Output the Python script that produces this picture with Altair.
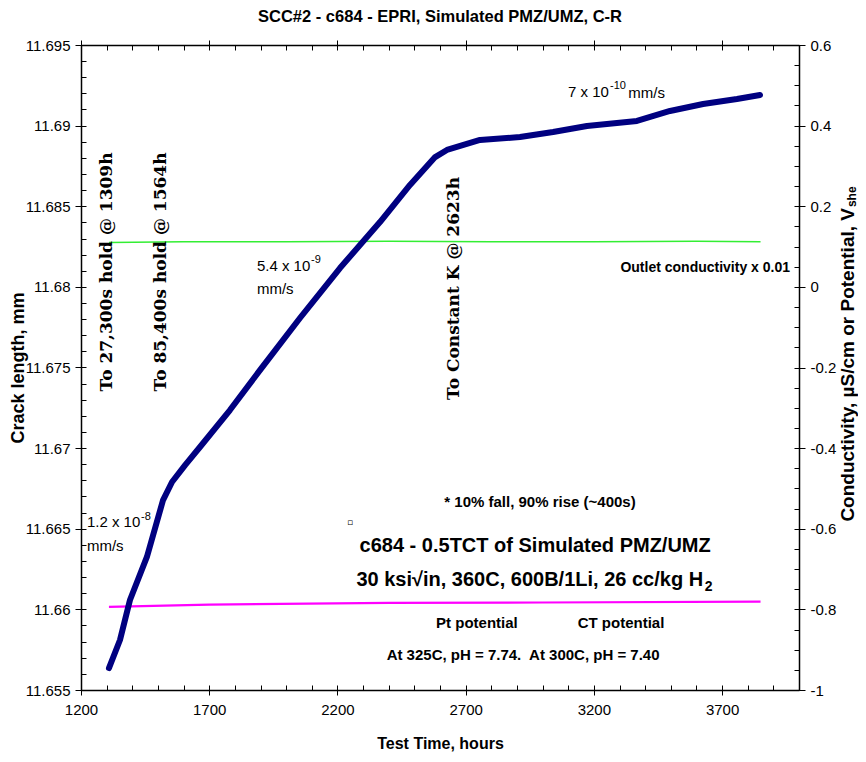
import altair as alt
import pandas as pd

# ---------------- data ----------------
crack_hours = [1309, 1352, 1391, 1457, 1520, 1555, 1606, 1664, 1781, 1898, 2054, 2210, 2366,
               2483, 2581, 2627, 2756, 2912, 3041, 3173, 3368, 3497, 3626, 3758, 3848]
crack_mm = [11.65636, 11.65810, 11.66058, 11.66325, 11.66678, 11.66790, 11.66895, 11.67007,
            11.67236, 11.67484, 11.67807, 11.68117, 11.68402, 11.68632, 11.68805, 11.68849,
            11.68911, 11.68929, 11.68960, 11.68998, 11.69029, 11.69091, 11.69134, 11.69165, 11.69190]

cond_hours = [1309, 1600, 2000, 2400, 2800, 3200, 3600, 3850]
cond_vals = [0.110, 0.112, 0.112, 0.113, 0.112, 0.112, 0.113, 0.112]

pot_hours = [1309, 1700, 2400, 3000, 3850]
pot_vals = [-0.794, -0.788, -0.784, -0.783, -0.781]

x_major = [1200, 1700, 2200, 2700, 3200, 3700]
x_minor = list(range(1200, 4001, 100))
left_major = [round(11.655 + 0.005 * i, 3) for i in range(9)]
left_minor = [round(11.655 + 0.001 * i, 3) for i in range(41)]
right_major = [round(-1 + 0.2 * i, 1) + 0.0 for i in range(9)]
right_minor = [round(-1 + 0.05 * i, 2) + 0.0 for i in range(33)]

X_DOMAIN = [1200, 4000]
L_DOMAIN = [11.655, 11.695]
R_DOMAIN = [-1, 0.6]

SANS = "Liberation Sans, Arial, sans-serif"
SERIF = "DejaVu Serif"

xs = alt.Scale(domain=X_DOMAIN, nice=False, zero=False)
ls = alt.Scale(domain=L_DOMAIN, nice=False, zero=False)
rs = alt.Scale(domain=R_DOMAIN, nice=False, zero=False)

crack_df = pd.DataFrame({"h": crack_hours, "v": crack_mm})
cond_df = pd.DataFrame({"h": cond_hours, "v": cond_vals})
pot_df = pd.DataFrame({"h": pot_hours, "v": pot_vals})

common_axis = dict(grid=False, domainColor="black", tickColor="black", labelColor="black",
                   titleColor="black", labelFont=SANS, titleFont=SANS, labelFontSize=15,
                   titleFontWeight="bold", labelFlush=False, labelOverlap=False)

# ----- lines -----
cond = alt.Chart(cond_df).mark_line(color="#33ee33", strokeWidth=1.6).encode(
    x=alt.X("h:Q", scale=xs, axis=alt.Axis(orient="top", values=x_major, labels=False, title=None,
                                           tickSize=5, domainWidth=1.5, **common_axis)),
    y=alt.Y("v:Q", scale=rs, axis=alt.Axis(orient="right", values=right_major, tickSize=6, labelPadding=5,
                                           domainWidth=1.5,
                                           labelExpr="replace(format(datum.value, '.1~f'), '\u2212', '-')",
                                           title=None, **common_axis)),
)

pot = alt.Chart(pot_df).mark_line(color="#ff00ff", strokeWidth=2.2).encode(
    x=alt.X("h:Q", scale=xs, axis=alt.Axis(orient="top", values=x_minor, labels=False, title=None,
                                           domain=False, tickSize=5, offset=-5, grid=False, tickColor="black")),
    y=alt.Y("v:Q", scale=rs, axis=alt.Axis(orient="right", values=right_minor, labels=False, title=None,
                                           domain=False, tickSize=5, offset=-5, grid=False, tickColor="black")),
)

crack = alt.Chart(crack_df).mark_line(color="#000080", strokeWidth=6, strokeJoin="round", strokeCap="round").encode(
    x=alt.X("h:Q", scale=xs, axis=alt.Axis(orient="bottom", values=x_major, tickSize=5, labelPadding=7,
                                           domainWidth=1.5, format="d", title="Test Time, hours",
                                           titleFontSize=16, titlePadding=18, **common_axis)),
    y=alt.Y("v:Q", scale=ls, axis=alt.Axis(orient="left", values=left_major, tickSize=6, labelPadding=5,
                                           domainWidth=1.5, labelExpr="format(datum.value, '.5~r')",
                                           title="Crack length, mm", titleFontSize=18, titlePadding=-2,
                                           **common_axis)),
)

# ----- annotations -----
def texts(df, axes=False, **kw):
    if axes:
        xa = alt.Axis(orient="bottom", values=x_minor, labels=False, title=None, domain=False,
                      tickSize=5, offset=-5, grid=False, tickColor="black")
        ya = alt.Axis(orient="left", values=left_minor, labels=False, title=None, domain=False,
                      tickSize=5, offset=-5, grid=False, tickColor="black")
    else:
        xa = None
        ya = None
    return alt.Chart(df).mark_text(color="black", **kw).encode(
        x=alt.X("h:Q", scale=xs, axis=xa),
        y=alt.Y("v:Q", scale=ls, axis=ya),
        text="t:N",
    )

serif_df = pd.DataFrame({
    "t": ["To 27,300s hold @ 1309h", "To 85,400s hold @ 1564h", "To Constant K @ 2623h"],
    "h": [1301, 1512, 2655],
    "v": [11.68092, 11.68092, 11.6799],
})
rate_df = pd.DataFrame({
    "t": ["5.4 x 10", "mm/s", "1.2 x 10", "mm/s", "7 x 10", "mm/s"],
    "h": [1886, 1886, 1223, 1223, 3099, 3334],
    "v": [11.68130, 11.67987, 11.66542, 11.66393, 11.69209, 11.69202],
})
sup_df = pd.DataFrame({
    "t": ["-9", "-8", "-10"],
    "h": [2097, 1434, 3263],
    "v": [11.68165, 11.66575, 11.69243],
})
bold_df = pd.DataFrame({
    "t": ["* 10% fall, 90% rise (~400s)", "Pt potential", "CT potential",
          "At 325C, pH = 7.74.\u00a0 At 300C, pH = 7.40"],
    "h": [2990, 2744, 3306, 2924],
    "v": [11.66666, 11.65916, 11.65916, 11.65717],
})
outlet_df = pd.DataFrame({"t": ["Outlet conductivity x 0.01"], "h": [3965], "v": [11.68117]})
big_df = pd.DataFrame({"t": ["c684 - 0.5TCT of Simulated PMZ/UMZ"], "h": [2971], "v": [11.66393]})
big2_df = pd.DataFrame({"t": ["30 ksi\u221ain, 360C, 600B/1Li, 26 cc/kg H"], "h": [3626], "v": [11.66182]})
sub2_df = pd.DataFrame({"t": ["2"], "h": [3632], "v": [11.66140]})
square_df = pd.DataFrame({"t": ["\u25ab"], "h": [2249], "v": [11.66542]})
rtitle_df = pd.DataFrame({"t": ["Conductivity, \u00b5S/cm or Potential, V"], "h": [4190], "v": [11.68489]})
rsub_df = pd.DataFrame({"t": ["she"], "h": [4205], "v": [11.68495]})

layers = [
    cond, pot, crack,
    texts(serif_df, axes=True, font=SERIF, fontWeight="bold", fontSize=17, angle=270,
          align="center", baseline="middle"),
    texts(rate_df, font=SANS, fontSize=15, align="left", baseline="middle"),
    texts(sup_df, font=SANS, fontSize=11, align="left", baseline="middle"),
    texts(bold_df, font=SANS, fontSize=15, fontWeight="bold", align="center", baseline="middle"),
    texts(outlet_df, font=SANS, fontSize=14, fontWeight="bold", align="right", baseline="middle"),
    texts(big_df, font=SANS, fontSize=20, fontWeight="bold", align="center", baseline="middle"),
    texts(big2_df, font=SANS, fontSize=20, fontWeight="bold", align="right", baseline="middle"),
    texts(sub2_df, font=SANS, fontSize=14, fontWeight="bold", align="left", baseline="middle"),
    texts(square_df, font="DejaVu Sans", fontSize=9, align="center", baseline="middle"),
    texts(rtitle_df, font=SANS, fontSize=19, fontWeight="bold", angle=270, align="right", baseline="middle"),
    texts(rsub_df, font=SANS, fontSize=12, fontWeight="bold", angle=270, align="left", baseline="middle"),
]

chart = alt.layer(*layers).resolve_scale(y="independent").resolve_axis(x="independent", y="independent").properties(
    width=718, height=645,
    padding={"left": 73, "top": 37, "right": 59, "bottom": 64},
    autosize=alt.AutoSizeParams(type="none"),
    title=alt.TitleParams("SCC#2 - c684 - EPRI, Simulated PMZ/UMZ, C-R", font=SANS, fontSize=16.5,
                          fontWeight="bold", color="black", anchor="middle", frame="group", offset=13),
).configure_view(stroke=None).configure(background="white")

chart.save("out.html", embed_options={"renderer": "svg", "actions": False})
